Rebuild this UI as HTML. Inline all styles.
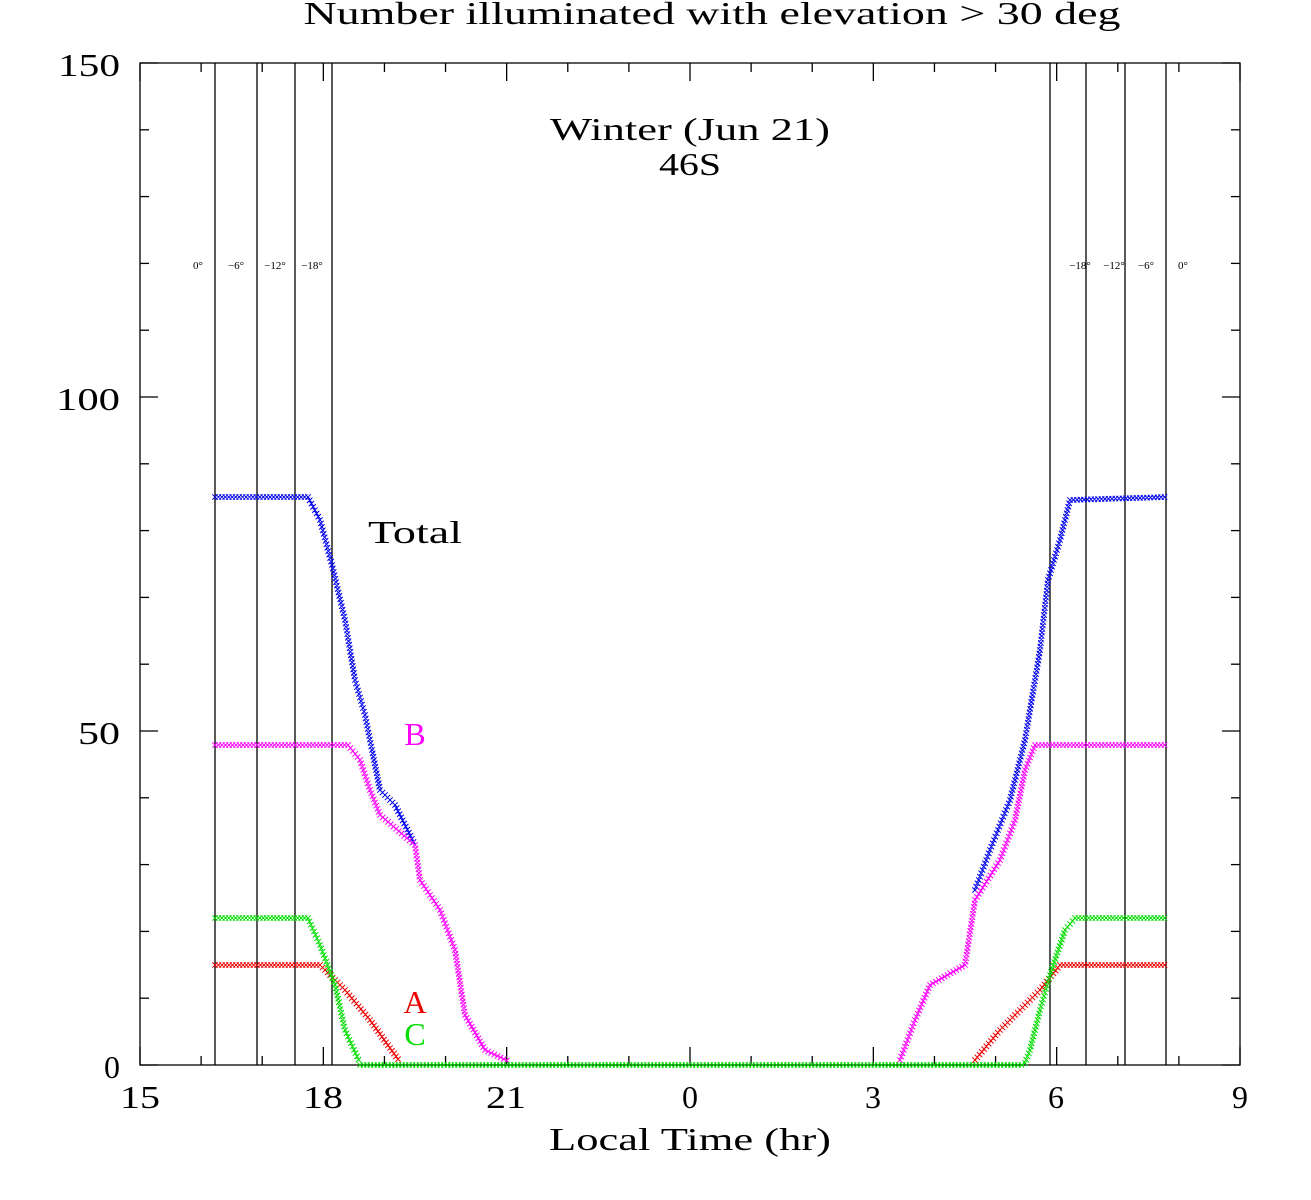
<!DOCTYPE html>
<html><head><meta charset="utf-8"><style>
html,body{margin:0;padding:0;background:#fff;}
svg text{font-family:"Liberation Serif",serif;}
</style></head><body>
<svg id="s" width="1311" height="1195" xmlns="http://www.w3.org/2000/svg">
<rect width="1311" height="1195" fill="#fff"/>
<g id="ax" stroke="#000" stroke-width="1.3" fill="none">
<rect x="140" y="63" width="1100" height="1002"/>
<line x1="215" y1="63" x2="215" y2="1065"/><line x1="257" y1="63" x2="257" y2="1065"/>
<line x1="295" y1="63" x2="295" y2="1065"/><line x1="332" y1="63" x2="332" y2="1065"/>
<line x1="1050" y1="63" x2="1050" y2="1065"/><line x1="1086" y1="63" x2="1086" y2="1065"/>
<line x1="1125" y1="63" x2="1125" y2="1065"/><line x1="1166" y1="63" x2="1166" y2="1065"/>
</g>
<g font-size="32" text-anchor="end" fill="#000">
<text x="120" y="76" textLength="62" lengthAdjust="spacingAndGlyphs">150</text><text x="120" y="410" textLength="64" lengthAdjust="spacingAndGlyphs">100</text><text x="120" y="744" textLength="42" lengthAdjust="spacingAndGlyphs">50</text><text x="120" y="1078">0</text>
</g>
<g font-size="32" text-anchor="middle" fill="#000">
<text x="140" y="1108" textLength="40" lengthAdjust="spacingAndGlyphs">15</text><text x="323" y="1108" textLength="40" lengthAdjust="spacingAndGlyphs">18</text><text x="506" y="1108" textLength="40" lengthAdjust="spacingAndGlyphs">21</text><text x="690" y="1108">0</text>
<text x="873" y="1108">3</text><text x="1056" y="1108">6</text><text x="1240" y="1108">9</text>
<text x="690" y="1150" textLength="282" lengthAdjust="spacingAndGlyphs">Local Time (hr)</text>
<text x="712" y="24" textLength="817" lengthAdjust="spacingAndGlyphs">Number illuminated with elevation &gt; 30 deg</text>
<text x="690" y="140" textLength="280" lengthAdjust="spacingAndGlyphs">Winter (Jun 21)</text>
<text x="690" y="175" textLength="62" lengthAdjust="spacingAndGlyphs">46S</text>
<text x="415" y="543" textLength="94" lengthAdjust="spacingAndGlyphs">Total</text>
<text x="415" y="745" fill="#f0f">B</text>
<text x="415" y="1013" fill="#e00">A</text>
<text x="415" y="1045" fill="#0d0">C</text>
</g>
<g font-size="11" text-anchor="middle" fill="#000">
<text x="198" y="269">0°</text><text x="236" y="269">−6°</text><text x="275" y="269">−12°</text><text x="312" y="269">−18°</text>
<text x="1080" y="269">−18°</text><text x="1114" y="269">−12°</text><text x="1146" y="269">−6°</text><text x="1183" y="269">0°</text>
</g>
<g id="pts" stroke-width="1"></g>
</svg>
<script>
var ns="http://www.w3.org/2000/svg",ax=document.getElementById('ax'),pts=document.getElementById('pts');
function ln(x1,y1,x2,y2,p){var l=document.createElementNS(ns,'line');l.setAttribute('x1',x1);l.setAttribute('y1',y1);l.setAttribute('x2',x2);l.setAttribute('y2',y2);p.appendChild(l);}
for(var i=0;i<=18;i++){var x=140+i*1100/18,L=(i%3==0)?18:9;ln(x,1065,x,1065-L,ax);ln(x,63,x,63+L,ax);}
for(var j=0;j<=15;j++){var y=1065-j*1002/15,L=(j%5==0)?18:9;ln(140,y,140+L,y,ax);ln(1240,y,1240-L,y,ax);}
function series(poly,c){var d='';for(var k=0;k<poly.length-1;k++){var a=poly[k],b=poly[k+1],dx=b[0]-a[0],dy=b[1]-a[1],len=Math.sqrt(dx*dx+dy*dy),n=Math.max(1,Math.round(len/3.5));for(var m=0;m<n;m++){var x=a[0]+dx*m/n,y=a[1]+dy*m/n;d+='M'+(x-2.7)+' '+(y-2.7)+'L'+(x+2.7)+' '+(y+2.7)+'M'+(x-2.7)+' '+(y+2.7)+'L'+(x+2.7)+' '+(y-2.7);}}
var p=document.createElementNS(ns,'path');p.setAttribute('d',d);p.setAttribute('stroke',c);p.setAttribute('fill','none');pts.appendChild(p);}
series([[215,497],[308,497],[320,520],[332,565],[345,620],[355,680],[365,715],[372,750],[380,790],[395,805],[415,845]],'#0000ee');
series([[975,890],[990,850],[1010,800],[1025,740],[1040,650],[1048,580],[1060,540],[1070,500],[1168,497]],'#0000ee');
series([[215,745],[348,745],[360,760],[370,790],[380,815],[415,845],[420,880],[440,910],[455,950],[465,1015],[485,1050],[510,1062]],'#f0f');
series([[900,1060],[915,1020],[930,985],[965,965],[975,900],[1000,860],[1015,820],[1025,770],[1035,745],[1168,745]],'#f0f');
series([[360,1065],[1025,1065]],'#0d0');
series([[215,965],[320,965],[345,990],[370,1020],[400,1062]],'#e00');
series([[975,1060],[1000,1030],[1020,1010],[1040,990],[1060,965],[1168,965]],'#e00');
series([[215,918],[308,918],[320,945],[335,985],[345,1030],[360,1063]],'#0d0');
series([[1025,1063],[1030,1050],[1040,1010],[1050,975],[1065,930],[1075,918],[1168,918]],'#0d0');
</script>
</body></html>
